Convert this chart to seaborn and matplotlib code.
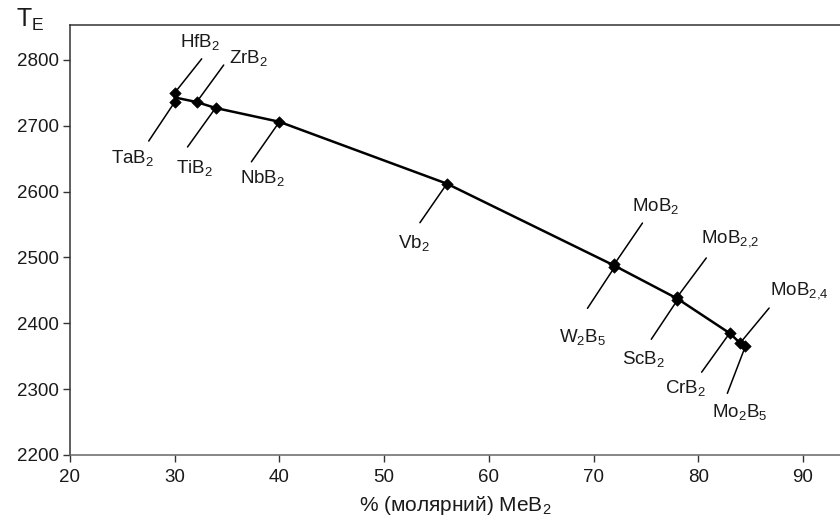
import matplotlib
matplotlib.use('Agg')
import matplotlib.pyplot as plt
import seaborn as sns
import pandas as pd

# dane
labels = ["HfB$_2$", "TaB$_2$", "ZrB$_2$", "TiB$_2$", "NbB$_2$", "Vb$_2$",
          "MoB$_2$", "W$_2$B$_5$", "MoB$_{2{,}2}$", "ScB$_2$", "CrB$_2$",
          "MoB$_{2{,}4}$", "Mo$_2$B$_5$"]
x_mol = [30, 30, 32.1, 33.9, 40, 56, 72, 72, 78, 78, 83, 84, 84.5]
t_e = [2750, 2736, 2736, 2727, 2706, 2612, 2490, 2485, 2440, 2435, 2385, 2370, 2365]
x_ticks = [20, 30, 40, 50, 60, 70, 80, 90]
y_ticks = [2200, 2300, 2400, 2500, 2600, 2700, 2800]

# przesunięcia (piksele): koniec linii odnośnika, środek podpisu
line_off = [(27, 34), (-26, -39), (27, 37), (-28, -39), (-28, -40), (-27, -39),
            (28, 41), (-27, -41), (29, 39), (-26, -39), (-28, -39), (29, 35), (-18, -47)]
text_off = [(25, 51), (-42, -56), (52, 44), (-21, -60), (-17, -56), (-33, -59),
            (41, 58), (-32, -70), (53, 58), (-34, -59), (-44, -55), (59, 53), (-6, -66)]

df = pd.DataFrame({"x": x_mol, "t": t_e})

sns.set_style("white")
plt.rcParams['font.family'] = ['Liberation Sans', 'DejaVu Sans']
plt.rcParams['mathtext.default'] = 'regular'

fig = plt.figure(figsize=(8.4, 5.25), dpi=100)
ax = fig.add_axes([70 / 840, 70 / 525, 770 / 840, 430 / 525])

sns.lineplot(data=df, x="x", y="t", estimator="mean", errorbar=None,
             color="black", linewidth=1.8, ax=ax)
sns.scatterplot(data=df, x="x", y="t", marker="D", s=34, color="black",
                edgecolor="black", zorder=3, ax=ax)

for lab, xv, yv, lo, to in zip(labels, x_mol, t_e, line_off, text_off):
    ax.annotate("", xy=(xv, yv), xytext=lo, textcoords="offset pixels",
                arrowprops=dict(arrowstyle="-", color="black", lw=1.1,
                                shrinkA=0, shrinkB=0))
    ax.annotate(lab, xy=(xv, yv), xytext=to, textcoords="offset pixels",
                ha="center", va="center", fontsize=13.5, color="#1a1a1a")

ax.set_xlim(20, 93.54)
ax.set_ylim(2200, 2853)
ax.set_xticks(x_ticks)
ax.set_yticks(y_ticks)
ax.tick_params(axis="both", direction="out", length=5, width=1, color="#333333",
               labelsize=13.5, labelcolor="#1a1a1a", pad=3, left=True, bottom=True)
ax.tick_params(axis="x", pad=5)
ax.spines["right"].set_visible(False)
for s in ["left", "top"]:
    ax.spines[s].set_color("#333333")
ax.spines["bottom"].set_color("#666666")
for s in ["left", "top", "bottom"]:
    ax.spines[s].set_linewidth(1.1)

ax.set_xlabel("% (молярний) MeB$_2$", fontsize=15, color="#1a1a1a", labelpad=6)
ax.set_ylabel("")
fig.text(16 / 840, 1 - 20 / 525, "T$_E$", fontsize=18, va="center",
         ha="left", color="#1a1a1a")

fig.savefig("out.png", dpi=100)
